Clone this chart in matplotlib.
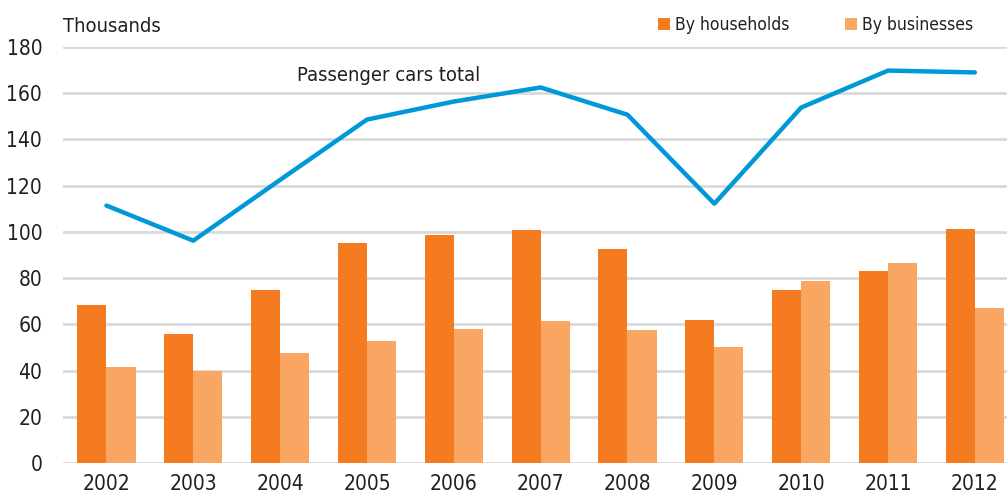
import numpy as np
import matplotlib
matplotlib.use("Agg")
import matplotlib.pyplot as plt

# ----------------- Data -----------------
years = ["2002", "2003", "2004", "2005", "2006", "2007",
         "2008", "2009", "2010", "2011", "2012"]
households = [68.4, 55.8, 74.9, 95.2, 98.5, 100.7, 92.6, 61.7, 74.9, 83.2, 101.3]
businesses = [41.6, 40.0, 47.6, 52.9, 58.0, 61.5, 57.7, 50.3, 78.6, 86.6, 67.2]
cars_total = [111.4, 96.2, 122.5, 148.6, 156.4, 162.5, 150.7, 112.2, 153.8, 169.8, 169.0]

# ----------------- Style -----------------
plt.rcParams["font.family"] = ["DejaVu Sans"]
plt.rcParams["font.stretch"] = "condensed"
text_color = "#231F20"
c_house = "#F47B20"
c_bus = "#F9A662"
c_line = "#0099D8"

fig = plt.figure(figsize=(10.07, 5.01), dpi=100)
ax = fig.add_axes([63 / 1007, 38 / 501, 944 / 1007, 416 / 501])

x = np.arange(len(years))
w = 0.335
ax.bar(x - w / 2, households, width=w, color=c_house, zorder=3, label="By households")
ax.bar(x + w / 2, businesses, width=w, color=c_bus, zorder=3, label="By businesses")
ax.plot(x, cars_total, color=c_line, linewidth=3.2, zorder=4, solid_capstyle="round")

ax.set_xlim(-0.5, 10.37)
ax.set_ylim(0, 180)
ax.set_yticks(range(0, 181, 20))
ax.set_xticks(x)
ax.set_xticklabels(years)
ax.tick_params(axis="both", length=0, labelsize=15, colors=text_color)
ax.tick_params(axis="y", pad=15)
ax.tick_params(axis="x", pad=8)

ax.grid(axis="y", color="#D9D9D9", linewidth=2, zorder=0)
ax.set_axisbelow(True)
for s in ax.spines.values():
    s.set_visible(False)

# Labels
fig.text(63 / 1007, 1 - 27 / 501, "Thousands", fontsize=14.5, color=text_color,
         va="center", ha="left")
ax.text(3.25, 163.5, "Passenger cars total", fontsize=14.5, color=text_color,
        ha="center", va="bottom")

leg = ax.legend(loc="center right", bbox_to_anchor=(0.972, 1.053), ncol=2, frameon=False,
                fontsize=12.5, handlelength=0.7, handleheight=0.7, handletextpad=0.3,
                columnspacing=3.2, borderaxespad=0)
for t in leg.get_texts():
    t.set_color(text_color)

fig.savefig("out.png", dpi=100)
